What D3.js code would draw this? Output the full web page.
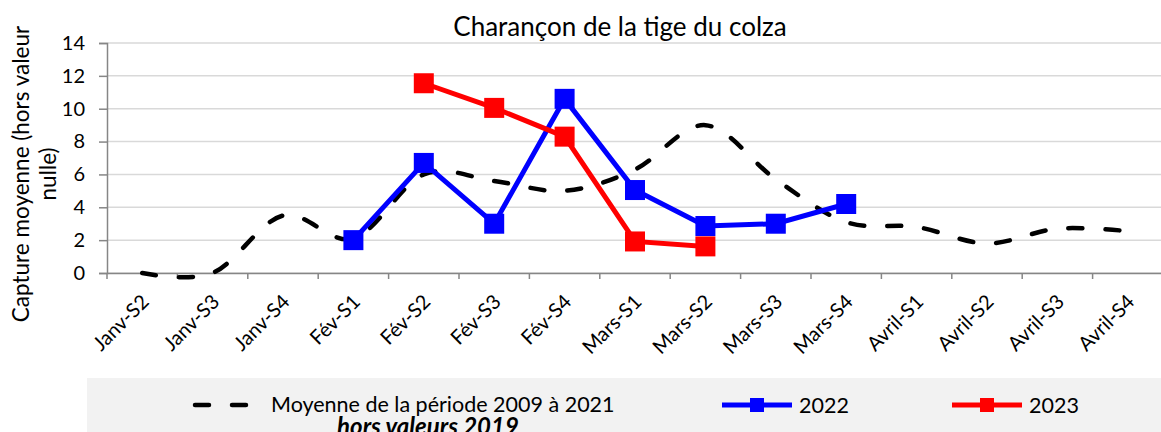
<!DOCTYPE html>
<html>
<head>
<meta charset="utf-8">
<script src="https://cdn.jsdelivr.net/npm/d3@7"></script>
<style>
  body { margin: 0; background: #fff; }
  svg { display: block; font-family: Lato, "Open Sans", sans-serif; }
</style>
</head>
<body>
<svg width="1161" height="432"></svg>
<script>
// categories (weeks) and series
var weeks = ["Janv-S2", "Janv-S3", "Janv-S4", "Fév-S1", "Fév-S2", "Fév-S3", "Fév-S4",
  "Mars-S1", "Mars-S2", "Mars-S3", "Mars-S4", "Avril-S1", "Avril-S2", "Avril-S3", "Avril-S4"];
var moyenne = [0, 0, 3.5, 2.1, 6.0, 5.6, 5.0, 6.3, 9.0, 5.7, 3.1, 2.8, 1.8, 2.7, 2.55];
var y2022 = [null, null, null, 2.0, 6.7, 3.0, 10.6, 5.05, 2.86, 3.0, 4.2, null, null, null, null];
var y2023 = [null, null, null, null, 11.55, 10.05, 8.3, 1.92, 1.62, null, null, null, null, null, null];
var yTicks = [0, 2, 4, 6, 8, 10, 12, 14];

var svg = d3.select("svg");

// scales
var x = d3.scaleBand().domain(weeks).range([107, 1163]);
var y = d3.scaleLinear().domain([0, 14]).range([273, 43]);
var cx = function(d, i) { return x(weeks[i]) + x.bandwidth() / 2; };

// title
svg.append("text")
  .attr("x", 620).attr("y", 36)
  .attr("text-anchor", "middle")
  .attr("font-size", "26px")
  .text("Charançon de la tige du colza");

// gridlines
svg.append("g").selectAll("line")
  .data(yTicks).enter().append("line")
  .attr("x1", 107).attr("x2", 1163)
  .attr("y1", function(d) { return y(d); })
  .attr("y2", function(d) { return y(d); })
  .attr("stroke", "#d9d9d9").attr("stroke-width", 1.5);

// y axis
var yAxis = svg.append("g")
  .attr("transform", "translate(107,0)")
  .call(d3.axisLeft(y).tickValues(yTicks).tickSize(8).tickPadding(14));
yAxis.select(".domain").attr("stroke", "#868686").attr("stroke-width", 1.5);
yAxis.selectAll(".tick line").attr("stroke", "#868686").attr("stroke-width", 1.5);
yAxis.selectAll(".tick text").attr("font-size", "20px").attr("fill", "#000")
  .attr("font-family", "Lato, sans-serif");

// x axis
var xAxis = svg.append("g")
  .attr("transform", "translate(0,273)")
  .call(d3.axisBottom(x).tickSize(0).tickPadding(0));
xAxis.select(".domain").attr("stroke", "#868686").attr("stroke-width", 1.5);
// ticks at band boundaries
xAxis.selectAll(".bound")
  .data(weeks).enter().append("line")
  .attr("class", "bound")
  .attr("x1", function(d) { return x(d); }).attr("x2", function(d) { return x(d); })
  .attr("y1", 0).attr("y2", 6)
  .attr("stroke", "#868686").attr("stroke-width", 1.5);
xAxis.selectAll(".tick text")
  .attr("font-size", "20px").attr("fill", "#000")
  .attr("font-family", "Lato, sans-serif")
  .attr("text-anchor", "end")
  .attr("dy", 0)
  .attr("transform", "translate(8,30) rotate(-45)");

// y label
var ylab = svg.append("text")
  .attr("transform", "translate(29,174) rotate(-90)")
  .attr("text-anchor", "middle")
  .attr("font-size", "22.5px");
ylab.append("tspan").attr("x", 0).attr("dy", 0).text("Capture moyenne (hors valeur");
ylab.append("tspan").attr("x", 0).attr("dy", 27).text("nulle)");

// series lines
var smooth = d3.line()
  .x(cx).y(function(d) { return y(d); })
  .curve(d3.curveCatmullRom.alpha(0));
var straight = d3.line()
  .defined(function(d) { return d !== null; })
  .x(cx).y(function(d) { return y(d); });

svg.append("path")
  .attr("d", smooth(moyenne))
  .attr("fill", "none").attr("stroke", "#000")
  .attr("stroke-width", 4.5).attr("stroke-linecap", "round")
  .attr("stroke-dasharray", "14,23");

function drawSeries(values, color) {
  svg.append("path")
    .attr("d", straight(values))
    .attr("fill", "none").attr("stroke", color).attr("stroke-width", 5);
  svg.append("g").selectAll("rect")
    .data(values.map(function(v, i) { return { v: v, i: i }; })
      .filter(function(d) { return d.v !== null; }))
    .enter().append("rect")
    .attr("x", function(d) { return cx(d.v, d.i) - 10; })
    .attr("y", function(d) { return y(d.v) - 10; })
    .attr("width", 20).attr("height", 20)
    .attr("fill", color);
}
drawSeries(y2022, "#0000ff");
drawSeries(y2023, "#ff0000");

// legend
var leg = svg.append("g");
leg.append("rect")
  .attr("x", 87).attr("y", 378).attr("width", 1074).attr("height", 54)
  .attr("fill", "#f2f2f2");
leg.append("line")
  .attr("x1", 195).attr("x2", 247).attr("y1", 405).attr("y2", 405)
  .attr("stroke", "#000").attr("stroke-width", 4.5).attr("stroke-linecap", "round")
  .attr("stroke-dasharray", "14,23");
leg.append("text").attr("x", 271).attr("y", 412).attr("font-size", "21.5px")
  .text("Moyenne de la période 2009 à 2021");
leg.append("text").attr("x", 428).attr("y", 435).attr("font-size", "24px")
  .attr("text-anchor", "middle")
  .attr("font-weight", "bold").attr("font-style", "italic")
  .text("hors valeurs 2019");

[["2022", "#0000ff", 722], ["2023", "#ff0000", 952]].forEach(function(s) {
  leg.append("line")
    .attr("x1", s[2]).attr("x2", s[2] + 70).attr("y1", 405).attr("y2", 405)
    .attr("stroke", s[1]).attr("stroke-width", 5);
  leg.append("rect")
    .attr("x", s[2] + 28).attr("y", 398).attr("width", 14).attr("height", 14)
    .attr("fill", s[1]);
  leg.append("text").attr("x", s[2] + 77).attr("y", 413).attr("font-size", "21.5px")
    .text(s[0]);
});
</script>
</body>
</html>
